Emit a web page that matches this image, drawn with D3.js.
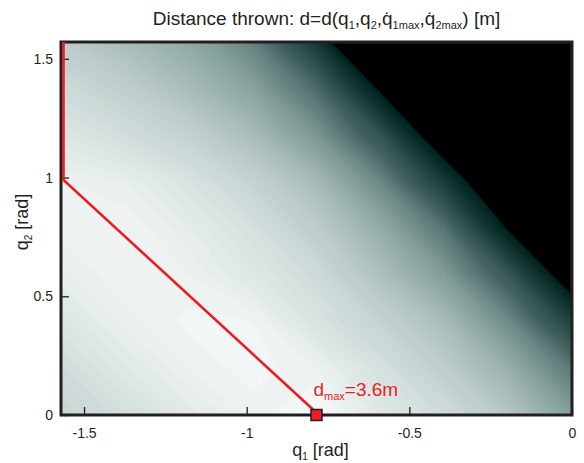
<!DOCTYPE html>
<html>
<head>
<meta charset="utf-8">
<script src="https://cdn.jsdelivr.net/npm/d3@7"></script>
<style>
body { margin: 0; background: #fff; font-family: "Liberation Sans", Arial, sans-serif; }
</style>
</head>
<body>
<div id="main"></div>
<script>
// grid nodes (rad)
const q1Nodes = [-1.5708, -1.3744, -1.1781, -0.9817, -0.7854, -0.5890, -0.3927, -0.1963, 0];
const q2Nodes = [0, 0.1963, 0.3927, 0.5890, 0.7854, 0.9817, 1.1781, 1.3744, 1.5708];

// distance thrown [m], one row per q2 node (bottom to top)
const distRows = [
    [2.95, 3.13, 3.32, 3.47, 3.60, 3.30, 3.08, 2.72, 2.10],
    [3.08, 3.29, 3.45, 3.53, 3.45, 3.15, 2.83, 2.35, 1.57],
    [3.25, 3.42, 3.52, 3.50, 3.20, 2.93, 2.55, 1.83, 0.67],
    [3.38, 3.50, 3.45, 3.28, 3.06, 2.62, 2.06, 1.10, -0.5],
    [3.48, 3.50, 3.36, 3.15, 2.82, 2.30, 1.52, -0.05, -1.5],
    [3.45, 3.40, 3.20, 2.92, 2.52, 1.78, 0.55, -1.0, -1.5],
    [3.25, 3.10, 2.90, 2.55, 1.98, 1.00, -0.6, -1.5, -1.5],
    [3.05, 2.85, 2.55, 2.15, 1.40, -0.1, -1.5, -1.5, -1.5],
    [2.80, 2.55, 2.25, 1.70, 0.50, -1.7, -1.5, -1.5, -1.5]
];

// optimal path and maximum
const pathQ1 = [-1.5708, -1.5708, -0.7854];
const pathQ2 = [1.5708, 0.99, 0];
const dMax = {q1: -0.7854, q2: 0, d: 3.6};

const xTicks = [-1.5, -1, -0.5, 0];
const yTicks = [0, 0.5, 1, 1.5];

// dimensions
const svg_width = 584, svg_height = 463;
const margin = {top: 42, right: 12, bottom: 48, left: 61};
const graph_width = svg_width - margin.left - margin.right,
    graph_height = svg_height - margin.top - margin.bottom;

const ink = "#231f20", red = "#ed1c24";

const svg = d3.select("#main").append("svg")
    .attr("width", svg_width)
    .attr("height", svg_height);
const g = svg.append("g")
    .attr("transform", `translate(${margin.left},${margin.top})`);

const xScale = d3.scaleLinear().domain([-Math.PI / 2, 0]).range([0, graph_width]);
const yScale = d3.scaleLinear().domain([0, Math.PI / 2]).range([graph_height, 0]);

// colour map: black below zero, dark teal -> white
const colorRamp = d3.scaleLinear()
    .domain([0, 0.54, 1.26, 1.98, 2.7, 3.24, 3.6])
    .range(["#01231f", "#1a3c39", "#446360", "#7d9996", "#b6c8c6", "#dde6e5", "#fafcfc"])
    .clamp(true);
function colorOf(v) { return v < 0 ? "#000" : colorRamp(v); }

// clip
g.append("defs").append("clipPath").attr("id", "clip")
    .append("rect").attr("width", graph_width).attr("height", graph_height);

// filled contours
const nx = q1Nodes.length, ny = q2Nodes.length;
const values = [];
distRows.forEach(function(row) { row.forEach(function(v) { values.push(v); }); });
const thresholds = [-10].concat(d3.range(0, 3.601, 0.05));
const contours = d3.contours().size([nx, ny]).thresholds(thresholds)(values);

const step1 = (q1Nodes[nx - 1] - q1Nodes[0]) / (nx - 1);
const step2 = (q2Nodes[ny - 1] - q2Nodes[0]) / (ny - 1);
const proj = d3.geoTransform({
    point: function(x, y) {
        this.stream.point(xScale(q1Nodes[0] + (x - 0.5) * step1),
                          yScale(q2Nodes[0] + (y - 0.5) * step2));
    }
});

g.append("g").attr("clip-path", "url(#clip)")
    .selectAll("path")
    .data(contours)
    .enter().append("path")
    .attr("d", d3.geoPath(proj))
    .attr("fill", function(d) { return colorOf(d.value); })
    .attr("stroke", function(d) { return colorOf(d.value); })
    .attr("stroke-width", 0.4);

// axes (ticks pointing inward)
const fmt = function(d) { return String(d); };
const xAxis = g.append("g")
    .attr("transform", `translate(0,${graph_height})`)
    .call(d3.axisBottom(xScale).tickValues(xTicks).tickFormat(fmt).tickSize(-8).tickPadding(13));
const yAxis = g.append("g")
    .call(d3.axisLeft(yScale).tickValues(yTicks).tickFormat(fmt).tickSize(-8).tickPadding(8));
[xAxis, yAxis].forEach(function(a) {
    a.select(".domain").remove();
    a.selectAll(".tick line").attr("stroke", ink).attr("stroke-width", 1.3);
    a.selectAll(".tick text").attr("fill", ink)
        .style("font-family", "Liberation Sans, Arial, sans-serif").style("font-size", "14px");
});

// frame
g.append("rect")
    .attr("width", graph_width).attr("height", graph_height)
    .attr("fill", "none").attr("stroke", ink).attr("stroke-width", 3);

// optimal path
const line = d3.line()
    .x(function(d, i) { return xScale(pathQ1[i]); })
    .y(function(d, i) { return yScale(pathQ2[i]); });
g.append("path")
    .attr("d", line(pathQ1))
    .attr("transform", "translate(2.5,0)")
    .attr("fill", "none").attr("stroke", red).attr("stroke-width", 2.6);

// max marker
g.append("rect")
    .attr("x", xScale(dMax.q1) - 5.5).attr("y", yScale(dMax.q2) - 5.5)
    .attr("width", 11).attr("height", 11)
    .attr("fill", red).attr("stroke", ink).attr("stroke-width", 1.5);

// text with subscripts: parts = [[text, isSub], ...]
function richText(t, parts, subSize) {
    let down = false;
    parts.forEach(function(p) {
        const ts = t.append("tspan").text(p[0]);
        if (p[1] && !down) { ts.attr("dy", 4).style("font-size", subSize); down = true; }
        else if (p[1]) { ts.style("font-size", subSize); }
        else if (down) { ts.attr("dy", -4); down = false; }
    });
}

const lbl = g.append("text")
    .attr("x", xScale(dMax.q1) - 3).attr("y", yScale(dMax.q2) - 19)
    .attr("fill", red).style("font-size", "19px");
richText(lbl, [["d", 0], ["max", 1], ["=" + dMax.d + "m", 0]], "11px");

// title
const title = svg.append("text")
    .attr("x", margin.left + graph_width / 2 + 10).attr("y", 25)
    .attr("text-anchor", "middle").attr("fill", ink)
    .style("font-size", "19px");
richText(title, [["Distance thrown: d=d(q", 0], ["1", 1], [",q", 0], ["2", 1],
    [",q\u0307", 0], ["1max", 1], [",q\u0307", 0], ["2max", 1], [") [m]", 0]], "11px");

// axis labels
const xl = svg.append("text")
    .attr("x", margin.left + graph_width / 2 + 4).attr("y", 456)
    .attr("text-anchor", "middle").attr("fill", ink).style("font-size", "18px");
richText(xl, [["q", 0], ["1", 1], [" [rad]", 0]], "10px");

const yl = svg.append("text")
    .attr("transform", "translate(28,222) rotate(-90)")
    .attr("text-anchor", "middle").attr("fill", ink).style("font-size", "18px");
richText(yl, [["q", 0], ["2", 1], [" [rad]", 0]], "10px");
</script>
</body>
</html>
